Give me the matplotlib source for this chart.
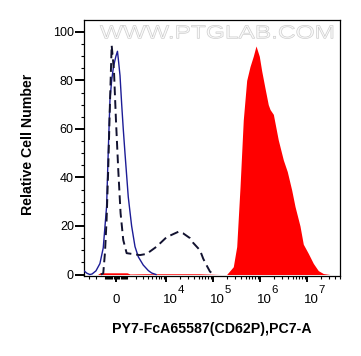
import matplotlib
matplotlib.use("Agg")
import matplotlib.pyplot as plt
from matplotlib.textpath import TextPath
from matplotlib.patches import PathPatch
from matplotlib.font_manager import FontProperties
from matplotlib.transforms import Affine2D, offset_copy

plt.rcParams["font.family"] = ["Liberation Sans", "DejaVu Sans"]

# ---- histogram outlines (x = fluorescence, y = % of max) ----
blank_x = [-4000, -3400, -2900, -2550, -2000, -1520, -1160, -830, -680, -520, -370, -230, -100, 0,
           130, 200, 350, 500, 640, 800, 1120, 1480, 1880, 2320, 3100, 4100, 4900, 6100]
blank_y = [1.5, 0.5, 0, 0.2, 1.5, 4.5, 11, 28, 50, 72, 80, 85, 88, 90,
           92, 89, 82, 70, 60, 50, 32, 20, 11.5, 7.3, 3.9, 1.6, 0.6, 0]

iso_x = [-1400, -1160, -990, -830, -680, -520, -370, -170, 0, 200, 400, 640, 960, 1480, 2560, 3740,
         6300, 10400, 18500, 23300, 32800, 38600, 53600, 62900, 75500, 87500, 106000]
iso_y = [0, 0.5, 8.8, 22.5, 43, 70.7, 94.5, 84, 63.7, 43, 25.3, 14.2, 8.8, 8.5, 8, 8.5,
         11.5, 15.4, 17.6, 17, 15, 13, 10, 6.5, 3.5, 1.2, 0]

cd62p_x = [-1800, -1500, 1000, 1300, 3400, 50000, 150000, 198000, 274000, 324000, 381000, 447000,
           528000, 621000, 730000, 834000, 979000, 1.10e6, 1.29e6, 1.52e6, 1.66e6, 1.95e6, 2.48e6,
           3.18e6, 3.86e6, 4.79e6, 5.64e6, 7.19e6, 8.45e6, 1.08e7, 1.38e7, 1.76e7, 2.25e7, 3.13e7]
cd62p_y = [0, 0.7, 0.7, 0.2, 0.3, 0.3, 0, 0, 3.2, 11.5, 36, 63.7,
           80, 85.7, 90, 94.2, 90, 84, 77, 70, 68, 66, 55.5,
           47.2, 42.4, 34.8, 28, 20, 12.5, 8.7, 4.6, 1.6, 0.4, 0]

x_major = [0, 1e4, 1e5, 1e6, 1e7]
x_labels = ["0", "4", "5", "6", "7"]   # "0" plain, the rest as 10^n
y_major = [0, 20, 40, 60, 80, 100]

# ---- figure ------------------------------------------------------------------
W, H = 361, 356
fig = plt.figure(figsize=(W / 100, H / 100), dpi=100)
ax = fig.add_axes([84 / W, (H - 275.5) / H, 256 / W, 255.5 / H])

ax.fill_between(cd62p_x, cd62p_y, 0, color="#ff0000", lw=0, zorder=2)
ax.plot(blank_x, blank_y, color="#1c1c96", lw=1.0, zorder=3)
ax.plot(iso_x, iso_y, color="#121230", lw=1.4, ls=(0, (4.5, 2.5)), zorder=4)

ax.set_xscale("asinh", linear_width=1750)
ax.set_xlim(-4000, 5.1e7)
ax.set_ylim(-0.41, 104.9)

minors = [-3000, -2000, -1000] + [s * k * 100 for k in range(1, 10) for s in (-1, 1)]
minors += [m * 10 ** e for e in range(3, 8) for m in range(1, 10) if m * 10 ** e < 5.1e7]
ax.set_xticks(x_major, [""] * len(x_major))
ax.set_xticks([m for m in minors if m not in x_major], minor=True)
ax.set_yticks(y_major)
ax.set_yticks(range(0, 105, 5), minor=True)

for sp in ax.spines.values():
    sp.set_linewidth(0.9)
ax.tick_params(axis="y", which="major", length=6.5, width=1.4, pad=0.8, labelsize=9)
ax.tick_params(axis="y", which="minor", length=2.5, width=0.8)
ax.tick_params(axis="x", which="major", length=4.5, width=1.4)
ax.tick_params(axis="x", which="minor", length=2.2, width=0.8)

# x tick labels: big "10" plus a near-full-size exponent, like the cytometer export
tx = ax.get_xaxis_transform()
base_y, sup_y = -27.8 / 255.5, -17.8 / 255.5
for v, lab in zip(x_major, x_labels):
    if lab == "0":
        ax.text(v, base_y, "0", transform=tx, ha="center", va="baseline", fontsize=9.5)
    else:
        ax.text(v, base_y, "10", transform=offset_copy(tx, fig=fig, x=-3 * 0.72, units="points"),
                ha="left", va="baseline", fontsize=9.5)
        ax.text(v, sup_y, lab, transform=offset_copy(tx, fig=fig, x=12 * 0.72, units="points"),
                ha="left", va="baseline", fontsize=8.2)

fig.text(212 / W, 1 - 333.3 / H, "PY7-FcA65587(CD62P),PC7-A", ha="center", va="baseline",
         fontsize=10.2, fontweight="bold")
fig.text(31.7 / W, 1 - 144.5 / H, "Relative Cell Number", rotation=90, rotation_mode="anchor",
         ha="center", va="baseline", fontsize=10.2, fontweight="bold")

# watermark: hollow, stretched lettering along the top of the plot
tp = TextPath((0, 0), "WWW.PTGLAB.COM", size=1, prop=FontProperties(family="Liberation Sans"))
bb = tp.get_extents()
sx, sy = 233 / bb.width, 13.3 / 0.716
wm = PathPatch(tp, transform=Affine2D().scale(sx, sy).translate(100 - bb.x0 * sx, H - 38.3),
               facecolor="#fafafa", edgecolor="#cdcdcd", lw=0.5, zorder=10)
fig.add_artist(wm)

fig.savefig("out.png", dpi=100)
